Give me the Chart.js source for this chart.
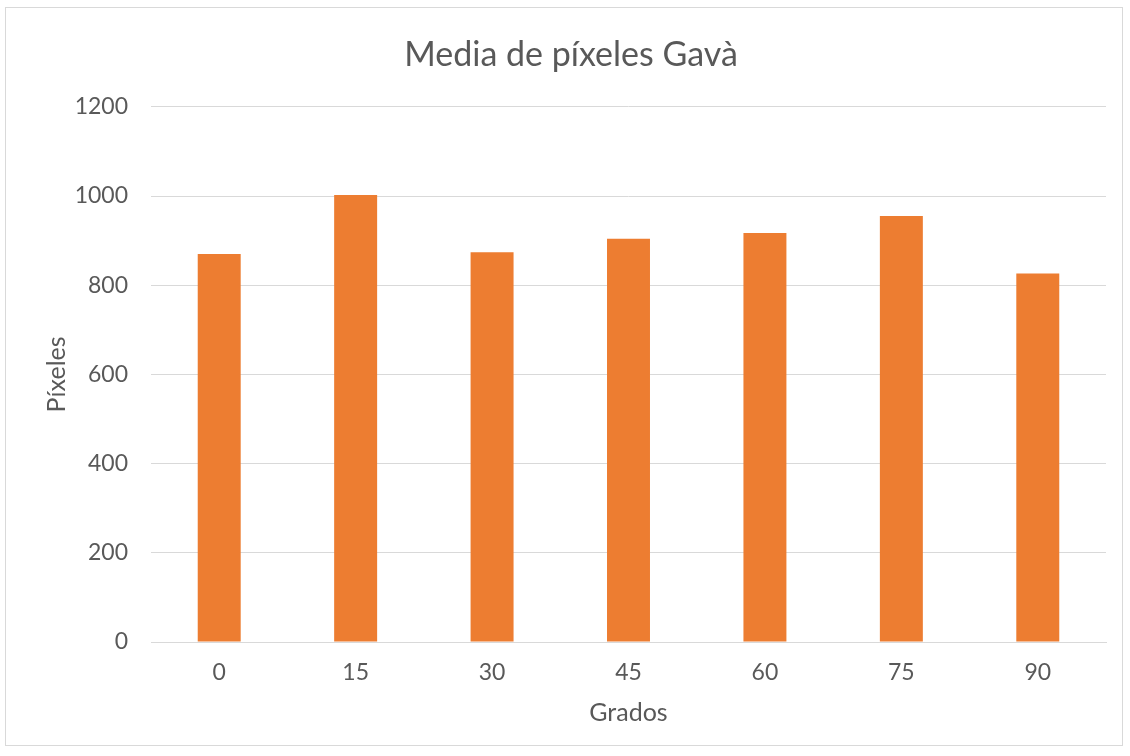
<!DOCTYPE html>
<html>
<head>
<meta charset="utf-8">
<script src="https://cdn.jsdelivr.net/npm/chart.js@4.4.1/dist/chart.umd.min.js"></script>
<style>
  html, body { margin: 0; padding: 0; background: #ffffff; }
  #wrap { position: relative; width: 1130px; height: 756px; }
  #frame { position: absolute; left: 5px; top: 7px; width: 1118px; height: 739px; border: 1px solid #d9d9d9; box-sizing: border-box; pointer-events: none; }
  canvas { position: absolute; left: 0; top: 0; }
</style>
</head>
<body>
<div id="wrap">
  <canvas id="chart" width="1130" height="756"></canvas>
  <div id="frame"></div>
</div>
<script>
const categories = ['0', '15', '30', '45', '60', '75', '90'];
const mediaPixeles = [870, 1002, 874, 904, 917, 955, 826];
const yTicks = [0, 200, 400, 600, 800, 1000, 1200];

const FONT = 'Lato, "Open Sans", sans-serif';
const TEXT = '#595959';
const GRID = '#d9d9d9';

new Chart(document.getElementById('chart'), {
  type: 'bar',
  data: {
    labels: categories,
    datasets: [{
      label: 'Media de píxeles',
      data: mediaPixeles,
      backgroundColor: '#ed7d31',
      borderWidth: 0,
      categoryPercentage: 1,
      barPercentage: 0.315
    }]
  },
  options: {
    responsive: false,
    animation: false,
    layout: { padding: { left: 36, right: 24, top: 0, bottom: 0 } },
    plugins: {
      legend: { display: false },
      tooltip: { enabled: false },
      title: {
        display: true,
        text: 'Media de píxeles Gavà',
        color: TEXT,
        font: { family: FONT, size: 34, weight: 'normal' },
        padding: { top: 35, bottom: 31 }
      }
    },
    scales: {
      x: {
        grid: { display: false, drawTicks: false },
        border: { display: true, color: GRID, width: 1 },
        ticks: { color: TEXT, font: { family: FONT, size: 23 }, padding: 17 },
        title: {
          display: true,
          text: 'Grados',
          color: TEXT,
          font: { family: FONT, size: 25 },
          padding: { top: 0, bottom: 28 }
        },
        afterFit(scale) { scale.height = 114; }
      },
      y: {
        min: 0,
        max: 1200,
        afterBuildTicks(scale) { scale.ticks = yTicks.map(v => ({ value: v })); },
        grid: { color: GRID, lineWidth: 1, drawTicks: false },
        border: { display: false },
        ticks: {
          color: TEXT,
          font: { family: FONT, size: 23 },
          padding: 23,
          callback: (v) => String(v)
        },
        title: {
          display: true,
          text: 'Píxeles',
          color: TEXT,
          font: { family: FONT, size: 25 },
          padding: { top: 6, bottom: 0 }
        },
        afterFit(scale) { scale.width = 115; }
      }
    }
  }
});
</script>
</body>
</html>
